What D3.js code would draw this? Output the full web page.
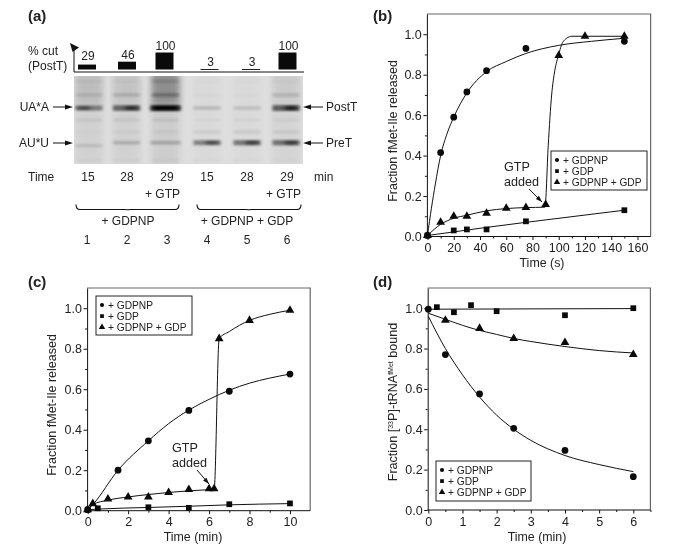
<!DOCTYPE html>
<html><head><meta charset="utf-8">
<script src="https://cdn.jsdelivr.net/npm/d3@7"></script>
<style>
html,body{margin:0;padding:0;background:#fff}
svg{display:block;filter:blur(0.35px)}
text{font-family:"Liberation Sans",Arial,sans-serif;fill:#222}
</style></head><body><svg id="fig" width="685" height="557" viewBox="0 0 685 557"></svg>
<script>
// ---------- panel (a) data
const laneNumbers=[1,2,3,4,5,6];
const laneTimes=[15,28,29,15,28,29];
const percentCut=[29,46,100,3,3,100];
const gelRows=["smearTop","upper","PostT","lowA","lowB","PreT","bottom"];
const rowRf=[0.06,0.216,0.364,0.50,0.636,0.758,0.96];
const rowSmearTop=[0.08,0.06,0.28,0.02,0.02,0.05];
const rowUpper=[0.22,0.32,0.62,0.04,0.03,0.30];
const rowPostT=[0.66,0.84,1.0,0.26,0.22,0.92];
const rowLowA=[0.14,0.14,0.16,0.06,0.07,0.08];
const rowLowB=[0.03,0.08,0.10,0.14,0.17,0.15];
const rowPreT=[0.18,0.30,0.34,0.66,0.74,0.76];
const rowBottom=[0.04,0.04,0.07,0.03,0.03,0.03];
// ---------- panel (b) data
const bTimeA=[0,10,20,30,45,75,150];
const bGdpnp=[0.005,0.415,0.59,0.715,0.82,0.93,0.965];
const bTimeB=[0,20,30,45,75,150];
const bGdp=[0.005,0.03,0.035,0.035,0.075,0.13];
const bTimeC=[0,10,20,30,45,60,75,90,100,120,150];
const bBoth=[0.005,0.07,0.10,0.10,0.115,0.14,0.143,0.158,0.895,0.99,0.99];
const bFitAx=[0,3,6,10,15,20,30,45,60,75,100,125,150];
const bFitAy=[0.005,0.14,0.26,0.40,0.51,0.59,0.71,0.815,0.865,0.905,0.945,0.965,0.98];
const bFitBx=[0,45,75,150];
const bFitBy=[0.005,0.045,0.07,0.13];
const bFitCx=[0,10,20,30,45,60,75,89.5,92,94.6,97,100,102,106,110,120,150];
const bFitCy=[0.005,0.06,0.09,0.105,0.127,0.138,0.143,0.145,0.45,0.7,0.82,0.9,0.945,0.98,0.99,0.99,0.99];
// ---------- panel (c) data
const cTimeA=[0,1.5,3,5,7,10];
const cGdpnp=[0.005,0.2,0.345,0.495,0.59,0.675];
const cTimeB=[0,0.5,3,5,7,10];
const cGdp=[0.005,0.012,0.017,0.014,0.032,0.036];
const cTimeC=[0,0.25,1,2,3,4,5,6,6.25,6.5,8,10];
const cBoth=[0.005,0.035,0.058,0.068,0.068,0.09,0.105,0.108,0.108,0.85,0.94,0.99];
const cFitAx=[0,0.25,1.5,3,4,5,6,7,8,9,10];
const cFitAy=[0.005,0.03,0.2,0.345,0.43,0.497,0.55,0.595,0.63,0.655,0.675];
const cFitBx=[0,0.5,3,5,7,10];
const cFitBy=[0.005,0.008,0.016,0.022,0.029,0.035];
const cFitCx=[0,0.25,1,2,3,4,5,6,6.25,6.5,7,8,9,10];
const cFitCy=[0.005,0.03,0.052,0.068,0.08,0.09,0.098,0.104,0.105,0.85,0.885,0.94,0.97,0.99];
// ---------- panel (d) data
const dTimeA=[0,0.5,1.5,2.5,4,6];
const dGdpnp=[0.995,0.77,0.575,0.405,0.295,0.165];
const dTimeB=[0.25,0.75,1.25,2,4,6];
const dGdp=[1.005,0.98,1.015,0.985,0.965,1.0];
const dTimeC=[0.5,1.5,2.5,4,6];
const dBoth=[0.94,0.90,0.85,0.83,0.77];
const dFitAx=[0,0.5,1,1.5,2,2.5,3,4,5,6];
const dFitAy=[0.96,0.80,0.67,0.56,0.47,0.40,0.345,0.27,0.225,0.19];
const dFitBx=[0,6];
const dFitBy=[0.995,0.998];
const dFitCx=[0,0.5,1,1.5,2,2.5,3,4,5,6];
const dFitCy=[0.975,0.945,0.915,0.89,0.87,0.85,0.835,0.81,0.79,0.778];
const legendLabels=["+ GDPNP","+ GDP","+ GDPNP + GDP"];

const svg=d3.select("#fig");
const defs=svg.append("defs");
const F=12;
const txt=(x,y,s,size=F,anchor="start",weight="normal")=>svg.append("text").attr("x",x).attr("y",y)
  .attr("font-size",size).attr("text-anchor",anchor).attr("font-weight",weight).text(s);
const symbols=[d3.symbolCircle,d3.symbolSquare,d3.symbolTriangle];
const zip=(a,b)=>a.map((v,i)=>[v,b[i]]);

function arrowHead(x,y,dir){
  svg.append("path").attr("d",`M${x},${y}l${-8*dir},-2.5l0,5z`).attr("fill","#111");
}

function panel(o){
  const g=svg.append("g");
  const x=d3.scaleLinear().domain(o.xDomain).range(o.xRange);
  const y=d3.scaleLinear().domain([0,1.1]).range(o.yRange);
  const rx=o.xRange[1], lx=o.xRange[0]-0.6;
  g.append("path").attr("d",`M${lx},${o.yRange[1]}H${rx}V${o.yRange[0]}`).attr("fill","none").attr("stroke","#666").attr("stroke-width",1.2);
  const ax=g.append("g").attr("transform",`translate(0,${o.yRange[0]})`);
  ax.call(d3.axisBottom(x).tickValues(o.xMinor).tickSize(2).tickFormat("")).selectAll(".domain").remove();
  const ax2=g.append("g").attr("transform",`translate(0,${o.yRange[0]})`);
  ax2.call(d3.axisBottom(x).tickValues(o.xMajor).tickSize(3.5).tickPadding(3.2).tickSizeOuter(0).tickFormat(d3.format("d")));
  ax2.select(".domain").attr("d",`M${lx},0H${rx}`);
  const ay=g.append("g").attr("transform",`translate(${lx},0)`);
  ay.call(d3.axisLeft(y).tickValues(d3.range(0.1,1.1,0.2)).tickSize(2).tickFormat("")).selectAll(".domain").remove();
  const ay2=g.append("g").attr("transform",`translate(${lx},0)`);
  ay2.call(d3.axisLeft(y).tickValues([0,0.2,0.4,0.6,0.8,1.0]).tickSize(3.5).tickPadding(1.6).tickSizeOuter(0).tickFormat(d3.format(".1f")));
  g.selectAll(".tick text").attr("font-size",12.5).attr("fill","#222").attr("font-family","'Liberation Sans',Arial,sans-serif");
  g.selectAll(".domain,.tick line").attr("stroke","#111").attr("stroke-width",1);
  const line=d3.line().x(d=>x(d[0])).y(d=>y(d[1])).curve(d3.curveMonotoneX);
  o.fits.forEach(pts=>g.append("path").attr("d",line(pts)).attr("fill","none").attr("stroke","#111").attr("stroke-width",1));
  o.series.forEach((pts,i)=>{
    g.append("g").selectAll("path").data(pts).join("path")
      .attr("d",d3.symbol(symbols[i],[36,33,33][i]))
      .attr("transform",d=>`translate(${x(d[0])},${y(d[1])})`).attr("fill","#0a0a0a");
  });
  const L=o.legend;
  g.append("rect").attr("x",L.x).attr("y",L.y).attr("width",L.w).attr("height",L.h).attr("fill","#fff").attr("stroke","#222").attr("stroke-width",1);
  legendLabels.forEach((s,i)=>{
    const yy=L.y+9+i*11.1;
    g.append("path").attr("d",d3.symbol(symbols[i],[14,14,18][i])).attr("transform",`translate(${L.x+6},${yy})`).attr("fill","#0a0a0a");
    g.append("text").attr("x",L.x+12).attr("y",yy+3.6).attr("font-size",10.2).text(s);
  });
  g.append("text").attr("x",o.xTitle[0]).attr("y",o.xTitle[1]).attr("text-anchor","middle").attr("font-size",12.4).text(o.xLabel);
  return g;
}

const fractionReleased="Fraction fMet-Ile released";
function ytitle(x,y,s){
  return svg.append("text").attr("transform",`translate(${x},${y}) rotate(-90)`).attr("text-anchor","middle").attr("font-size",12.5).text(s);
}

// ---------- (a)
txt(28,21,"(a)",15,"start","bold");
const gelLaneX=[89,126.5,165.5,207,247,286];
const gelY=d3.scaleLinear().domain([0,1]).range([76,164]);
defs.append("filter").attr("id","gelblur").attr("x","-30%").attr("y","-200%").attr("width","160%").attr("height","500%")
  .append("feGaussianBlur").attr("stdDeviation","1.6 1.1");
defs.append("filter").attr("id","gelcore").attr("x","-50%").attr("y","-200%").attr("width","200%").attr("height","500%")
  .append("feGaussianBlur").attr("stdDeviation","2.6 0.9");
defs.append("filter").attr("id","gelsmear").attr("x","-40%").attr("y","-40%").attr("width","180%").attr("height","180%")
  .append("feGaussianBlur").attr("stdDeviation","3 4");
defs.append("clipPath").attr("id","gelclip").append("rect").attr("x",74).attr("y",76).attr("width",229).attr("height",88);
const gel=svg.append("g").attr("clip-path","url(#gelclip)");
gel.append("rect").attr("x",74).attr("y",76).attr("width",229).attr("height",88).attr("fill","#dedede");
const rowValues=[rowSmearTop,rowUpper,rowPostT,rowLowA,rowLowB,rowPreT,rowBottom];
gelLaneX.forEach((cx,i)=>{
  gel.append("rect").attr("x",cx-14).attr("y",72).attr("width",28).attr("height",96)
    .attr("fill","#000").attr("opacity",[0.05,0.05,0.07,0.015,0.015,0.04][i]).attr("filter","url(#gelsmear)");
  gel.append("rect").attr("x",cx-14).attr("y",70).attr("width",28).attr("height",36)
    .attr("fill","#000").attr("opacity",[0.09,0.06,0.30,0,0,0.04][i]).attr("filter","url(#gelsmear)");
});
rowValues.forEach((vals,r)=>{
  vals.forEach((v,i)=>{
    const isMain=gelRows[r]==="PostT"||gelRows[r]==="PreT";
    const h=isMain?(2.6+3.6*v):3.5;
    const w=i===2&&isMain?30:27;
    const off=(gelRows[r]==="PreT"&&i===0)?3:0;
    gel.append("rect").attr("x",gelLaneX[i]-w/2).attr("y",gelY(rowRf[r])-h/2+off).attr("width",w).attr("height",h)
      .attr("fill","#000").attr("opacity",v*(isMain?0.6:0.42)).attr("filter","url(#gelblur)");
    if(isMain&&v>0.5) gel.append("rect").attr("x",gelLaneX[i]+(i===2?-13:(i===0?-11:-1))).attr("y",gelY(rowRf[r])-h/3).attr("width",i===2?26:12).attr("height",h*2/3)
      .attr("fill","#000").attr("opacity",v*(i===2?1:0.7)).attr("filter","url(#gelcore)");
  });
});
const barH=d3.scaleLinear().domain([0,100]).range([0,17]);
const barX=[87,127,164.5,209.5,251,287.5];
svg.append("g").selectAll("rect").data(percentCut).join("rect")
  .attr("x",(d,i)=>barX[i]-9).attr("width",18).attr("y",d=>69.5-barH(d)).attr("height",d=>Math.max(barH(d),0.9)).attr("fill","#0a0a0a");
percentCut.forEach((d,i)=>{txt(barX[i]+1,d===100?50:(d===46?59:(d===29?60:66)),d,F,"middle")});
svg.append("path").attr("d","M74,49V72H304").attr("fill","none").attr("stroke","#111").attr("stroke-width",1);
svg.append("path").attr("d","M70,43L79,47.5L72.5,52Z").attr("fill","#111");
txt(28,55,"% cut",F); txt(28,70,"(PostT)",F);
[["UA*A",107,"PostT"],["AU*U",143,"PreT"]].forEach(([l,y,r])=>{
  txt(49,y+4,l,F,"end");
  svg.append("line").attr("x1",53).attr("x2",68).attr("y1",y).attr("y2",y).attr("stroke","#111");
  arrowHead(73,y,1);
  svg.append("line").attr("x1",310).attr("x2",323).attr("y1",y).attr("y2",y).attr("stroke","#111");
  arrowHead(303,y,-1);
  txt(326,y+4,r,F);
});
txt(28,181,"Time",F);
const timeX=[88,127,167,207,247,287];
laneTimes.forEach((d,i)=>txt(timeX[i],181,d,F,"middle"));
txt(314,181,"min",F);
txt(180,198,"+ GTP",F,"end"); txt(301,198,"+ GTP",F,"end");
function brace(x0,x1,y){
  const m=(x0+x1)/2;
  svg.append("path").attr("fill","none").attr("stroke","#111").attr("stroke-width",1.1)
   .attr("d",`M${x0},${y-5}Q${x0},${y} ${x0+4},${y}H${m-3}Q${m},${y} ${m},${y+0.8}Q${m},${y} ${m+3},${y}H${x1-4}Q${x1},${y} ${x1},${y-5}`);
}
brace(76,179,209.5); brace(197,301,209.5);
txt(128,225,"+ GDPNP",F,"middle"); txt(247,225,"+ GDPNP + GDP",F,"middle");
const numX=[87,127,167,207,247,287];
laneNumbers.forEach((d,i)=>txt(numX[i],244,d,F,"middle"));

// ---------- (b)
txt(373,21,"(b)",15,"start","bold");
panel({xDomain:[0,170],xRange:[427.5,650.6],yRange:[236.5,14],
  xMajor:d3.range(0,161,20),xMinor:d3.range(10,170,20),
  fits:[zip(bFitAx,bFitAy),zip(bFitBx,bFitBy),zip(bFitCx,bFitCy)],
  series:[zip(bTimeA,bGdpnp),zip(bTimeB,bGdp),zip(bTimeC,bBoth)],
  legend:{x:551,y:151,w:96,h:39},xTitle:[542,267],xLabel:"Time (s)"});
ytitle(397,131,fractionReleased);
txt(504,171,"GTP",12.6); txt(504,186,"added",12.6);

// ---------- (c)
txt(28,287,"(c)",15,"start","bold");
panel({xDomain:[0,11],xRange:[87.7,310.2],yRange:[510.7,288],
  xMajor:d3.range(0,11,2),xMinor:d3.range(1,11,2),
  fits:[zip(cFitAx,cFitAy),zip(cFitBx,cFitBy),zip(cFitCx,cFitCy)],
  series:[zip(cTimeA,cGdpnp),zip(cTimeB,cGdp),zip(cTimeC,cBoth)],
  legend:{x:96,y:296,w:96,h:39},xTitle:[193,541],xLabel:"Time (min)"});
ytitle(56,405,fractionReleased);
txt(172,452,"GTP",12.6); txt(172,467,"added",12.6);

// ---------- (d)
txt(373,287,"(d)",15,"start","bold");
panel({xDomain:[0,6.5],xRange:[428.3,650.4],yRange:[510,288],
  xMajor:d3.range(0,7,1),xMinor:d3.range(0.5,6.6,1),
  fits:[zip(dFitAx,dFitAy),zip(dFitBx,dFitBy),zip(dFitCx,dFitCy)],
  series:[zip(dTimeA,dGdpnp),zip(dTimeB,dGdp),zip(dTimeC,dBoth)],
  legend:{x:436,y:461,w:95,h:40},xTitle:[537,541],xLabel:"Time (min)"});
const t=svg.append("text").attr("transform","translate(397,402) rotate(-90)").attr("text-anchor","middle").attr("font-size",12.6);
t.append("tspan").text("Fraction [");
t.append("tspan").attr("font-size",7).attr("dy",-4).text("33");
t.append("tspan").attr("dy",4).text("P]-tRNA");
t.append("tspan").attr("font-size",7).attr("dy",-4).text("fMet");
t.append("tspan").attr("dy",4).text(" bound");

function annot(x1,y1,x2,y2){
  const a=Math.atan2(y2-y1,x2-x1)*180/Math.PI;
  svg.append("line").attr("x1",x1).attr("y1",y1).attr("x2",x2).attr("y2",y2).attr("stroke","#111");
  svg.append("path").attr("d","M0,0L-6.5,-2.2L-6.5,2.2Z").attr("transform",`translate(${x2},${y2}) rotate(${a})`).attr("fill","#111");
}
annot(529,189,542,202); annot(197,470,209,484);
</script></body></html>
